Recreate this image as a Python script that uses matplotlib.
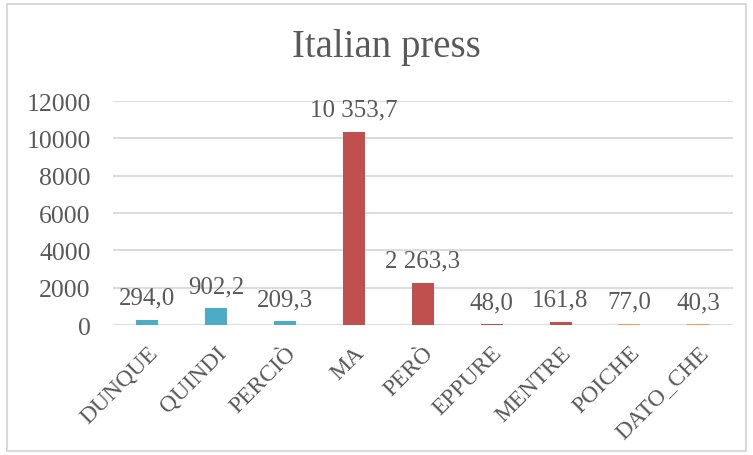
import matplotlib
matplotlib.use("Agg")
import matplotlib.pyplot as plt
from matplotlib.patches import Rectangle
import numpy as np

plt.rcParams["font.family"] = ["Liberation Serif", "DejaVu Serif"]

# ====== data ======
categories = ["DUNQUE", "QUINDI", "PERCIÒ", "MA", "PERÒ", "EPPURE",
              "MENTRE", "POICHE", "DATO_CHE"]
values = [294.0, 902.2, 209.3, 10353.7, 2263.3, 48.0, 161.8, 77.0, 40.3]
groups = ["blue", "blue", "blue", "red", "red", "red", "red", "orange", "orange"]

# ====== colours ======
palette = {"blue": "#4BACC6", "red": "#C0504D", "orange": "#F79646"}
text_color = "#595959"
grid_color = "#D9D9D9"

def fmt(v):
    s = f"{v:,.1f}"
    return s.replace(",", " ").replace(".", ",")

fig = plt.figure(figsize=(7.53, 4.56), dpi=100)
ax = fig.add_axes([0.150, 0.285, 0.823, 0.491])

x = np.arange(len(categories))
ax.bar(x, values, 0.32, color=[palette[g] for g in groups], zorder=3)

for xi, v in zip(x, values):
    ax.annotate(fmt(v), (xi, v), xytext=(0, 8), textcoords="offset points",
                ha="center", va="bottom", fontsize=18, color=text_color)

ax.set_xlim(-0.5, len(categories) - 0.5)
ax.set_ylim(0, 12000)
ax.set_yticks(np.arange(0, 12001, 2000))
ax.tick_params(axis="y", length=0, labelsize=18.5, labelcolor=text_color, pad=16)
ax.set_xticks(x)
ax.set_xticklabels(categories, rotation=45, ha="right", rotation_mode="anchor",
                   fontsize=17, color=text_color)
ax.tick_params(axis="x", length=0, pad=12)
ax.grid(axis="y", color=grid_color, linewidth=1.3, zorder=0)
ax.set_axisbelow(True)
for s in ax.spines.values():
    s.set_visible(False)

fig.text(0.513, 0.895, "Italian press", ha="center", va="center",
         fontsize=28, color=text_color)

# chart border
fig.patches.append(Rectangle((7 / 753, 4 / 456), 739 / 753, 447 / 456,
                             transform=fig.transFigure, fill=False,
                             edgecolor=grid_color, linewidth=1.5))

fig.savefig("out.png", dpi=100, facecolor="white")
